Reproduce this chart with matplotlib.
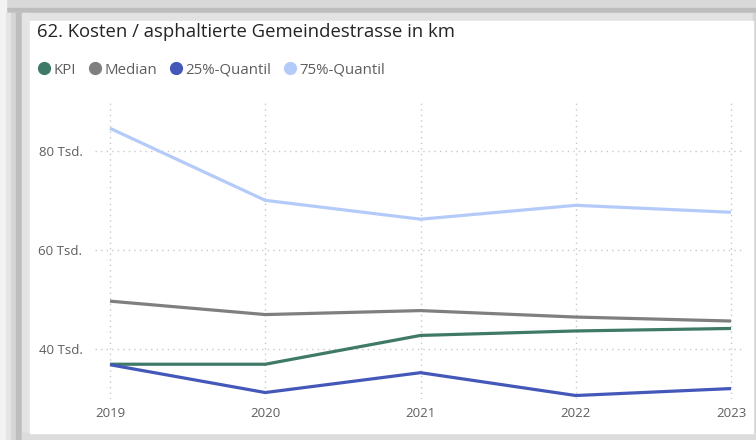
import matplotlib.pyplot as plt
from matplotlib.patches import Rectangle
from matplotlib.lines import Line2D

# --- Datos ---
jahre = [2019, 2020, 2021, 2022, 2023]
kpi = [37.0, 37.0, 42.8, 43.7, 44.2]
median = [49.7, 47.0, 47.8, 46.5, 45.7]
quantil_25 = [36.9, 31.3, 35.3, 30.7, 32.1]
quantil_75 = [84.5, 70.0, 66.2, 69.0, 67.6]
y_ticks = [40, 60, 80]
y_labels = ["40 Tsd.", "60 Tsd.", "80 Tsd."]

serien = [
    ("KPI", kpi, "#3f7a69"),
    ("Median", median, "#7f7f7f"),
    ("25%-Quantil", quantil_25, "#4358b8"),
    ("75%-Quantil", quantil_75, "#b4cbfa"),
]

plt.rcParams["font.family"] = ["Open Sans", "DejaVu Sans"]

W, H = 756, 440
fig = plt.figure(figsize=(W / 100, H / 100), dpi=100)
fig.patch.set_facecolor("#eeeeee")


def rect(x0, y0, x1, y1, color):
    # Rechteck in Pixeln (oben-links als Ursprung)
    fig.patches.append(Rectangle((x0 / W, 1 - y1 / H), (x1 - x0) / W, (y1 - y0) / H,
                                 transform=fig.transFigure, color=color, zorder=-5))


# Schatten der Karte
rect(0, 0, W, 8, "#d9d9d9")
rect(0, 8, W, 13, "#bdbdbd")
rect(0, 13, W, 21, "#e2e2e2")
rect(0, 0, 6, H, "#f3f3f3")
rect(6, 13, 11, H, "#e6e6e6")
rect(11, 13, 16, H, "#d6d6d6")
rect(16, 13, 22, H, "#bebebe")
rect(22, 13, 30, H, "#e4e4e4")
rect(753, 13, W, H, "#d4d4d4")
rect(22, 433, W, H, "#dcdcdc")
rect(30, 21, 753, 433, "#ffffff")

ax = fig.add_axes([95 / W, 1 - 399 / H, 648 / W, 298 / H])
ax.set_zorder(2)
ax.set_facecolor("none")

for name, werte, farbe in serien:
    ax.plot(jahre, werte, color=farbe, linewidth=2.3, solid_capstyle="butt", label=name, zorder=3)

ax.set_xlim(2019 - 15 / 155.25, 2023 + 12 / 155.25)
ax.set_ylim(30, 90)
ax.set_xticks(jahre)
ax.set_xticklabels([str(j) for j in jahre])
ax.set_yticks(y_ticks)
ax.set_yticklabels(y_labels)
ax.tick_params(length=0, labelsize=9.5, labelcolor="#605e5c")
ax.tick_params(axis="y", pad=9)
ax.tick_params(axis="x", pad=6)
ax.grid(True, linestyle=(0, (1, 3)), color="#c8c8c8", linewidth=1)
for s in ax.spines.values():
    s.set_visible(False)

fig.text(37 / W, 1 - 32 / H, "62. Kosten / asphaltierte Gemeindestrasse in km",
         fontsize=13.3, color="#252423", va="center", ha="left")

handles = [Line2D([], [], linestyle="none", marker="o", markersize=8.5,
                  markerfacecolor=f, markeredgecolor=f) for _, _, f in serien]
fig.legend(handles, [n for n, _, _ in serien], loc="center left",
           bbox_to_anchor=(30 / W, 1 - 70 / H), ncol=4, frameon=False,
           fontsize=10.8, labelcolor="#605e5c", handletextpad=0.15,
           columnspacing=0.75, borderaxespad=0, handlelength=1.0)

fig.savefig("out.png", dpi=100)
